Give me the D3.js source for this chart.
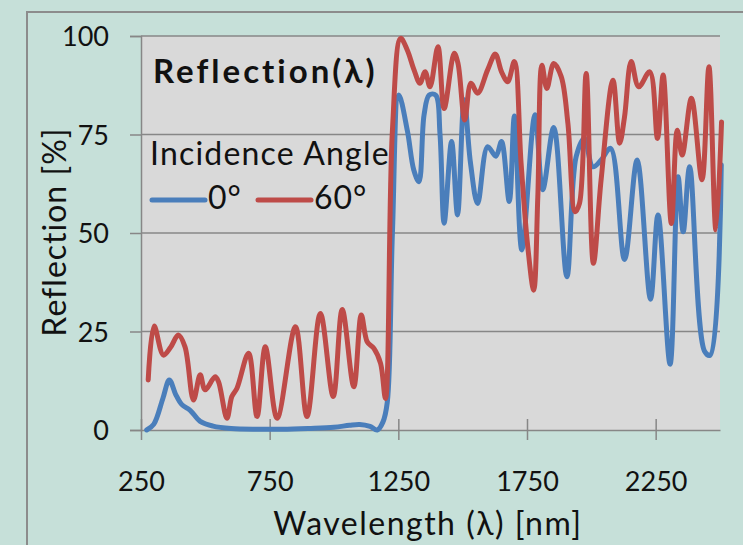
<!DOCTYPE html>
<html lang="en">
<head>
<meta charset="utf-8">
<title>Reflection</title>
<style type="text/css">
    body { margin: 0; background: #c6e0d9; }
    svg { display: block; font-family: Lato, "Open Sans", sans-serif; }
</style>
</head>
<body>
<script src="https://cdn.jsdelivr.net/npm/d3@7"></script>
<script>

    var w = 743;
    var h = 545;

    // data
    var wl0 = [272, 300, 335, 360, 385, 408, 441, 480, 530, 600, 700, 800, 900, 1000, 1060, 1100, 1140, 1168, 1190, 1207, 1227, 1252, 1285, 1310, 1330, 1350, 1370, 1395, 1412, 1428, 1457, 1480, 1506, 1530, 1558, 1597, 1629, 1651, 1681, 1701, 1730, 1781, 1811, 1854, 1905, 1941, 1973, 2006, 2038, 2075, 2129, 2178, 2230, 2259, 2306, 2337, 2357, 2382, 2440, 2462, 2505];
    var refl0 = [0, 1.5, 8, 12.7, 9, 6.5, 5, 2.2, 1, 0.4, 0.2, 0.2, 0.4, 0.7, 1.2, 1.4, 0.9, 0, 2, 7, 50, 85, 76, 66, 63, 80, 85, 85, 75, 52.5, 73.2, 54.6, 83.8, 68, 57.5, 71.9, 69.5, 73.2, 58, 79.7, 45.7, 80, 61, 76.8, 38.9, 69.4, 74, 66.8, 68.5, 71.5, 43.3, 68.5, 33.2, 54.6, 16.7, 64.3, 50.3, 66.8, 20, 19, 67.3];

    var wl60 = [278, 301, 337, 365, 395, 421, 454, 480, 499, 538, 551, 584, 603, 623, 668, 701, 733, 779, 850, 895, 947, 997, 1032, 1077, 1106, 1129, 1155, 1181, 1200, 1227, 1259, 1285, 1311, 1334, 1354, 1373, 1404, 1428, 1467, 1482, 1508, 1532, 1558, 1597, 1627, 1651, 1675, 1701, 1727, 1753, 1776, 1792, 1808, 1827, 1854, 1883, 1909, 1937, 1954, 1980, 2008, 2038, 2084, 2110, 2129, 2155, 2184, 2227, 2257, 2279, 2311, 2334, 2353, 2389, 2430, 2457, 2484, 2506];
    var refl60 = [12.7, 26.4, 19, 21, 24.1, 21.1, 7.6, 14, 10.2, 13.5, 12.3, 3, 8.5, 10.6, 19.5, 3.4, 21.1, 3, 26.2, 3.4, 29.6, 8.5, 30.6, 11, 29.2, 22.4, 20.7, 16.9, 8, 76, 99.4, 96.4, 91.4, 88, 90.9, 87.1, 97.3, 81.6, 95.6, 93, 78.7, 88, 85.5, 91.4, 95.4, 90.9, 88.4, 93.5, 67.7, 46.5, 35.5, 59.2, 92.6, 86.7, 93, 89.7, 77.8, 55.4, 57.5, 90.5, 42.3, 63.5, 88.8, 72.8, 79.5, 93.5, 87.1, 90.9, 74, 90.1, 52.4, 76.1, 69.8, 84.2, 63.5, 92.2, 50.8, 78.2];

    var xTicks = [250, 750, 1250, 1750, 2250];
    var yTicks = [0, 25, 50, 75, 100];

    var seriesNames = ["0°", "60°"];
    var seriesColors = ["#4a7ebb", "#be4b48"];

    var plotLeft = 141, plotRight = 720, plotTop = 36, plotBottom = 430;

    var svg = d3.select("body")
            .append("svg")
            .attr("width", w)
            .attr("height", h);

    // outer frame
    svg.append("rect")
        .attr("x", 27).attr("y", 12)
        .attr("width", 800).attr("height", 600)
        .attr("fill", "#c6e0d9")
        .attr("stroke", "#8c8c8c")
        .attr("stroke-width", 2);

    var x = d3.scaleLinear().domain([250, 2500]).range([plotLeft, plotRight]);
    var y = d3.scaleLinear().domain([0, 100]).range([plotBottom, plotTop]);

    // plot area
    svg.append("rect")
        .attr("x", plotLeft).attr("y", plotTop)
        .attr("width", plotRight - plotLeft).attr("height", plotBottom - plotTop)
        .attr("fill", "#d9d9d9");

    // gridlines
    svg.selectAll("line.grid")
        .data(yTicks.slice(1))
        .enter()
        .append("line")
        .attr("class", "grid")
        .attr("x1", plotLeft).attr("x2", plotRight)
        .attr("y1", function(d){ return y(d); })
        .attr("y2", function(d){ return y(d); })
        .attr("stroke", "#878787")
        .attr("stroke-width", 1.5);

    // y axis
    var yAxis = svg.append("g")
        .attr("transform", "translate(" + plotLeft + ",0)")
        .call(d3.axisLeft(y).tickValues(yTicks).tickFormat(d3.format("d")).tickSize(11).tickPadding(21));
    yAxis.select(".domain").attr("stroke", "#878787").attr("stroke-width", 1.5);
    yAxis.selectAll("line").attr("stroke", "#878787").attr("stroke-width", 1.5);
    yAxis.selectAll("text")
        .attr("font-size", 27)
        .attr("font-family", "Lato, sans-serif")
        .attr("fill", "#111")
        .attr("dy", "0.36em");

    // x axis
    var xAxis = svg.append("g")
        .attr("transform", "translate(0," + plotBottom + ")")
        .call(d3.axisBottom(x).tickValues(xTicks).tickFormat(d3.format("d")).tickSize(10).tickSizeOuter(0));
    xAxis.select(".domain").attr("stroke", "#878787").attr("stroke-width", 1.5);
    xAxis.selectAll("line")
        .attr("y1", -11)
        .attr("stroke", "#878787").attr("stroke-width", 1.5);
    xAxis.selectAll("text")
        .attr("font-size", 27)
        .attr("font-family", "Lato, sans-serif")
        .attr("fill", "#111")
        .attr("dy", null)
        .attr("y", 61);

    // lines
    var line = d3.line()
        .x(function(d){ return x(d[0]); })
        .y(function(d){ return y(d[1]); })
        .curve(d3.curveCatmullRom.alpha(0.5));

    var series = [d3.zip(wl0, refl0), d3.zip(wl60, refl60)];

    svg.selectAll("path.series")
        .data(series)
        .enter()
        .append("path")
        .attr("class", "series")
        .attr("d", line)
        .attr("fill", "none")
        .attr("stroke", function(d, i){ return seriesColors[i]; })
        .attr("stroke-width", 5)
        .attr("stroke-linejoin", "round")
        .attr("stroke-linecap", "round");

    // title and legend
    svg.append("text")
        .attr("x", 153).attr("y", 83)
        .attr("font-size", 33)
        .attr("font-weight", "bold")
        .attr("letter-spacing", 3)
        .attr("fill", "#111")
        .text("Reflection(λ)");

    svg.append("text")
        .attr("x", 150).attr("y", 165)
        .attr("font-size", 32)
        .attr("letter-spacing", 1.2)
        .attr("fill", "#111")
        .text("Incidence Angle");

    var legX = [152, 258];
    seriesNames.forEach(function(name, i){
        svg.append("line")
            .attr("x1", legX[i]).attr("x2", legX[i] + 53)
            .attr("y1", 200).attr("y2", 200)
            .attr("stroke", seriesColors[i])
            .attr("stroke-width", 5)
            .attr("stroke-linecap", "round");
        svg.append("text")
            .attr("x", legX[i] + 56).attr("y", 209)
            .attr("font-size", 32)
            .attr("letter-spacing", 1)
            .attr("fill", "#111")
            .text(name);
    });

    // axis titles
    svg.append("text")
        .attr("x", 428).attr("y", 535)
        .attr("text-anchor", "middle")
        .attr("font-size", 32)
        .attr("letter-spacing", 1.5)
        .attr("fill", "#111")
        .text("Wavelength (λ) [nm]");

    svg.append("text")
        .attr("transform", "translate(66,232) rotate(-90)")
        .attr("text-anchor", "middle")
        .attr("font-size", 32)
        .attr("letter-spacing", 1)
        .attr("fill", "#111")
        .text("Reflection [%]");

</script>
</body>
</html>
